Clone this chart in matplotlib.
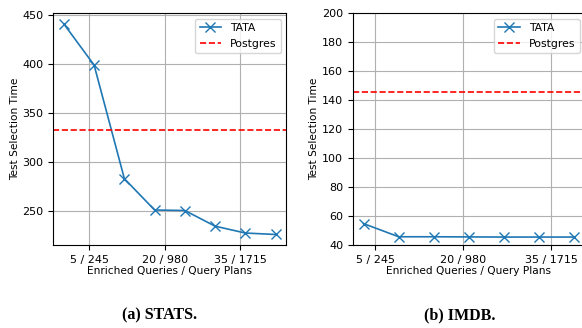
import numpy as np
from matplotlib import pyplot as plt

# STATS (a)
stats_x = [0, 6, 12, 18, 24, 30, 36, 42]
stats_tata = [441, 399, 283, 251, 250.5, 234.5, 227.5, 226]
stats_postgres = 333

# IMDB (b)
imdb_x = [3, 9, 15, 21, 27, 33, 39]
imdb_tata = [54.8, 45.7, 45.7, 45.6, 45.5, 45.5, 45.5]
imdb_postgres = 145.5

tick_pos = [5, 20, 35]
tick_labels = ['5 / 245', '20 / 980', '35 / 1715']

plt.rcParams['font.size'] = 7.6

fig = plt.figure(figsize=(5.82, 3.28), dpi=100)
ax1 = fig.add_axes([0.0916, 0.253, 0.400, 0.706])
ax2 = fig.add_axes([0.6065, 0.253, 0.3986, 0.706])


def draw_panel(ax, x, tata, postgres):
    ax.plot(x, tata, marker='x', color='#1f77b4', markersize=6.5, linewidth=1.2, label='TATA')
    ax.axhline(postgres, color='red', linestyle='--', linewidth=1.2, label='Postgres')
    ax.set_xticks(tick_pos)
    ax.set_xticklabels(tick_labels)
    ax.tick_params(labelsize=8)
    ax.set_xlabel('Enriched Queries / Query Plans', labelpad=1)
    ax.set_ylabel('Test Selection Time', labelpad=2)
    ax.grid(True, color='#b0b0b0', linewidth=0.8)
    ax.legend(loc='upper right', fontsize=7.8)


draw_panel(ax1, stats_x, stats_tata, stats_postgres)
draw_panel(ax2, imdb_x, imdb_tata, imdb_postgres)
ax2.set_ylim(40, 200)

fig.text(0.275, 0.037, '(a) STATS.', ha='center', va='center', fontsize=11.5,
         fontweight='bold', family='Liberation Serif')
fig.text(0.79, 0.037, '(b) IMDB.', ha='center', va='center', fontsize=11.5,
         fontweight='bold', family='Liberation Serif')

fig.savefig('out.png', dpi=100)
